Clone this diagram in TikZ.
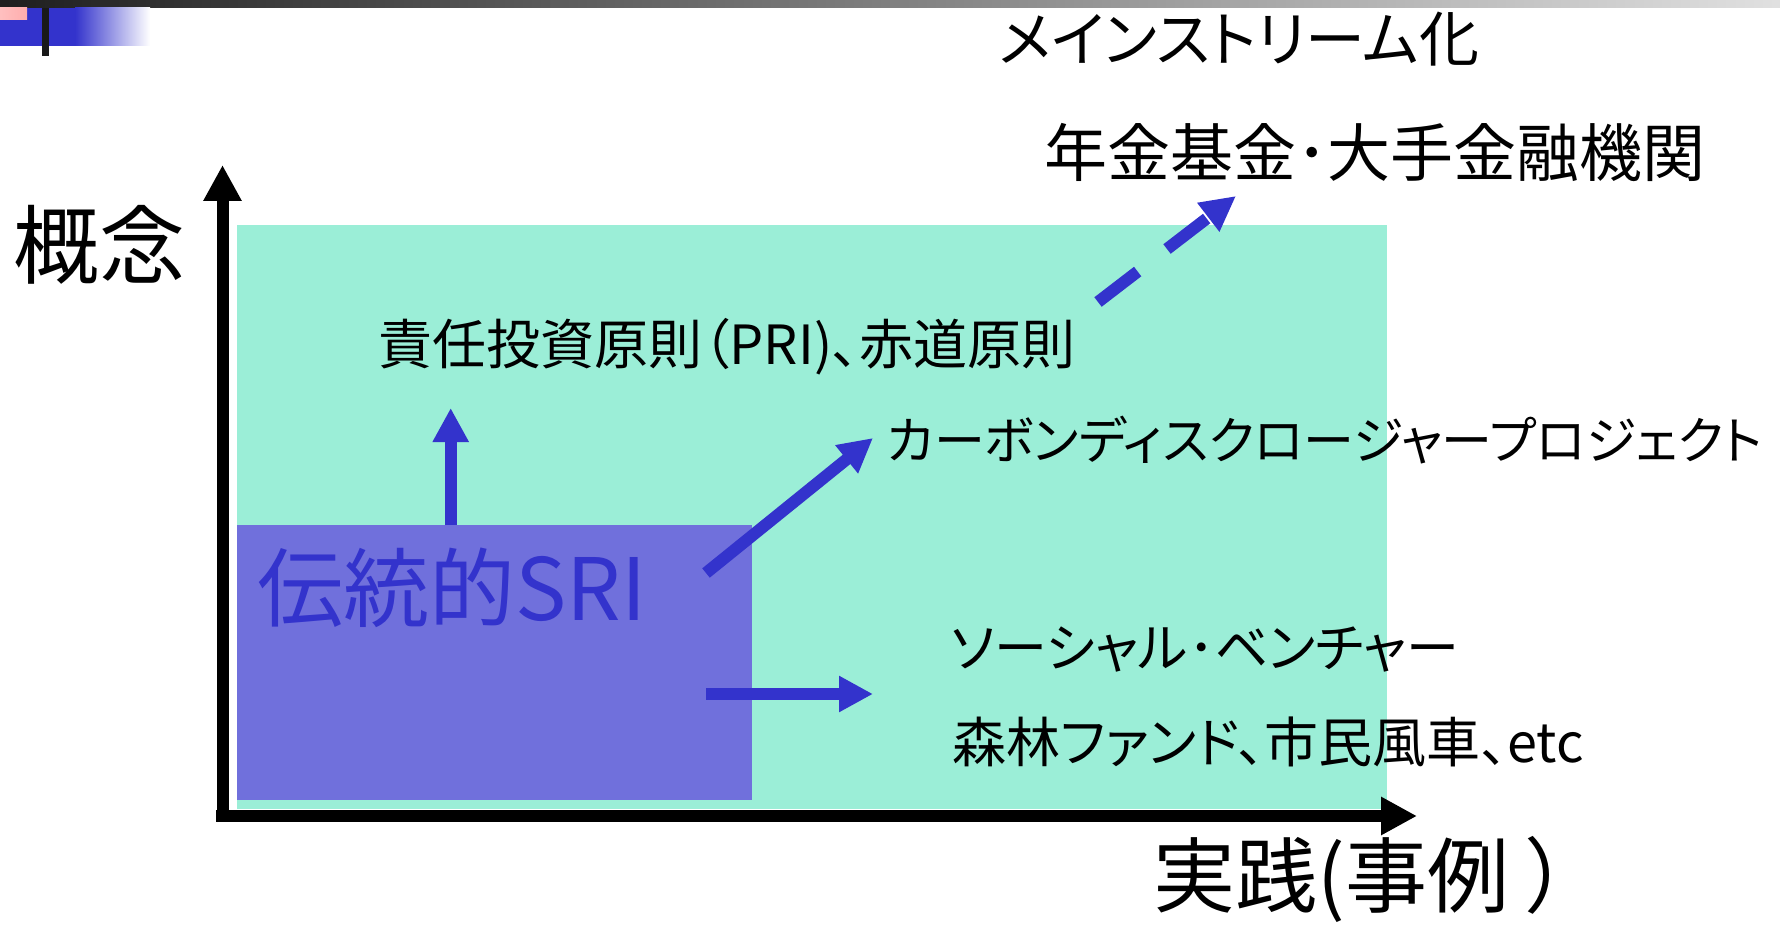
\documentclass[tikz,border=0pt]{standalone}
\usepackage{fontspec}
\newfontfamily\jp[RawFeature=+palt]{Noto Sans CJK JP}
\usetikzlibrary{arrows.meta}
\definecolor{sriblue}{RGB}{51,51,204}
\definecolor{tealfill}{RGB}{155,238,215}
\definecolor{bluefill}{RGB}{112,112,220}
\begin{document}
\begin{tikzpicture}[x=1pt,y=-1pt,
  lbl/.style={inner sep=0pt, anchor=center, text=black},
  axis/.style={line width=12pt, black, -{Triangle[length=36pt,width=36pt]}},
  bluearrow/.style={line width=12pt, sriblue, -{Triangle[length=34pt,width=34pt]}},
  dasharrow/.style={line width=12pt, sriblue, dash pattern=on 50pt off 37pt, -{Triangle[length=35pt,width=34pt]}}]
\useasboundingbox (0,0) rectangle (1780,925);
% top decoration
\shade[left color=black!88, right color=black!12] (0,0) rectangle (1780,8);
\fill[sriblue] (0,8) rectangle (75,46);
\shade[left color=sriblue, right color=white] (75,8) rectangle (150,46);
\shade[left color=red!25, right color=red!32] (0,8) rectangle (27,20);
\fill[black!90] (42,8) rectangle (49,56);
% regions
\fill[tealfill] (237,225) rectangle (1387,809);
\fill[bluefill] (237,525) rectangle (752,800);
% axes
\coordinate (yb) at (222.5,822);
\coordinate (yt) at (222.5,165);
\coordinate (xl) at (216,816);
\coordinate (xr) at (1417,816);
\draw[axis] (yb) -- (yt);
\draw[axis] (xl) -- (xr);
% arrows
\coordinate (upA) at (450.7,525);
\coordinate (upB) at (450.7,408);
\coordinate (dgA) at (706,573);
\coordinate (dgB) at (873,438);
\coordinate (hzA) at (706,694);
\coordinate (hzB) at (873,694);
\coordinate (dsA) at (1098,302);
\coordinate (dsB) at (1236,196);
\draw[bluearrow] (upA) -- (upB);
\draw[bluearrow] (dgA) -- (dgB);
\draw[bluearrow] (hzA) -- (hzB);
\draw[dasharrow] (dsA) -- (dsB);
% texts
\node[lbl, font=\jp\fontsize{60pt}{66pt}\selectfont] (main) at (1239,39) {メインストリーム化};
\node[lbl, font=\jp\fontsize{63pt}{70pt}\selectfont] (pension) at (1375,152) {年金基金･大手金融機関};
\node[lbl, font=\jp\fontsize{86pt}{94pt}\selectfont] (concept) at (99.5,245) {概念};
\node[lbl, font=\jp\fontsize{54pt}{60pt}\selectfont] (pri) at (727,346.5) {責任投資原則（PRI)、赤道原則};
\node[lbl, font=\jp\fontsize{51pt}{58pt}\selectfont] (cdp) at (1325,440) {カーボンディスクロージャープロジェクト};
\node[lbl, font=\jp\fontsize{53pt}{60pt}\selectfont] (social) at (1205,650) {ソーシャル･ベンチャー};
\node[lbl, font=\jp\fontsize{54pt}{60pt}\selectfont] (forest) at (1268,742) {森林ファンド、市民風車、etc};
\node[lbl, font=\jp\fontsize{86pt}{94pt}\selectfont, text=sriblue] (sri) at (452,588) {伝統的SRI};
\node[lbl, font=\jp\fontsize{82pt}{90pt}\selectfont] (practice) at (1361,879) {実践(事例\hspace{18pt}）};
\end{tikzpicture}
\end{document}
